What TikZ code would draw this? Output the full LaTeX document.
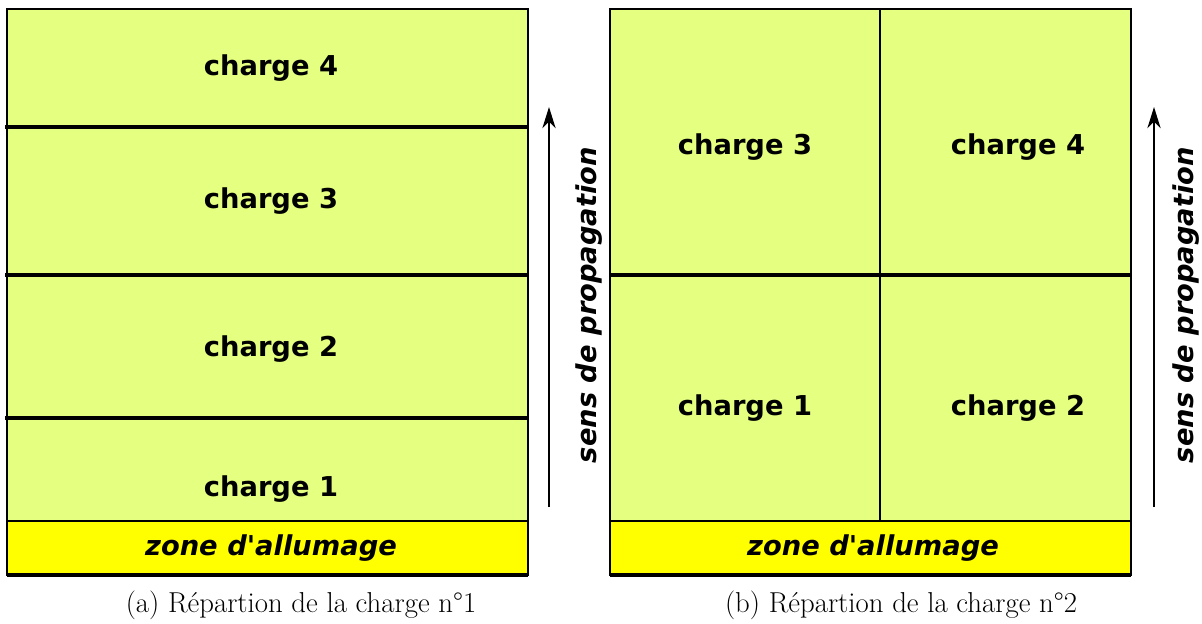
\documentclass[tikz,border=0pt]{standalone}
\usepackage{fontspec}
\usepackage{tikz}
\usetikzlibrary{arrows.meta,positioning}
\newfontfamily\dejavu{DejaVu Sans}
\definecolor{chfill}{RGB}{229,255,128}
\definecolor{znfill}{RGB}{255,255,0}
\tikzset{
  chlabel/.style={font=\dejavu\bfseries\fontsize{20.5}{24}\selectfont, inner sep=0pt},
  znlabel/.style={font=\dejavu\bfseries\itshape\fontsize{20.5}{24}\selectfont, inner sep=0pt},
  senslabel/.style={font=\dejavu\bfseries\itshape\fontsize{20.5}{24}\selectfont, inner sep=0pt, rotate=90},
  caplabel/.style={font=\fontsize{21.6}{25}\selectfont, inner sep=0pt},
  outline/.style={draw=black, line width=1.8pt},
  divline/.style={draw=black, line width=2.5pt},
  thinline/.style={draw=black, line width=1.1pt},
  sensarrow/.style={-{Stealth[length=16pt, width=10pt, inset=5pt]}, line width=1pt, draw=black}
}
\begin{document}
\begin{tikzpicture}[x=0.75pt, y=-0.75pt]
  \useasboundingbox (0,0) rectangle (1202,624);
  % (a) first layout
  \fill[chfill] (7,9) rectangle (528,521);
  \fill[znfill] (7,521) rectangle (528,575);
  \draw[divline] (5,127) -- (528,127);
  \draw[divline] (5,275) -- (528,275);
  \draw[divline] (5,418) -- (528,418);
  \draw[outline] (7,521) -- (528,521);
  \draw[outline] (7,9) rectangle (528,575);
  \draw[divline] (7,575) -- (528,575);
  \node[chlabel] (aC4) at (271,68) {charge 4};
  \node[chlabel] (aC3) at (271,201) {charge 3};
  \node[chlabel] (aC2) at (271,349) {charge 2};
  \node[chlabel] (aC1) at (271,489) {charge 1};
  \node[znlabel] (aZ) at (271,548) {zone d'allumage};
  \coordinate (aS) at (549,507);
  \coordinate (aE) at (549,107);
  \draw[sensarrow] (aS) -- (aE);
  \node[senslabel] (aSens) at (589,305) {sens de propagation};
  \node[caplabel] (aCap) at (301,605) {(a) Répartion de la charge n°1};
  % (b) second layout
  \fill[chfill] (610,9) rectangle (1131,521);
  \fill[znfill] (610,521) rectangle (1131,575);
  \draw[divline] (610,275) -- (1131,275);
  \draw[thinline] (880,9) -- (880,521);
  \draw[outline] (610,521) -- (1131,521);
  \draw[outline] (610,9) rectangle (1131,575);
  \draw[divline] (610,575) -- (1131,575);
  \node[chlabel] (bC3) at (745,147) {charge 3};
  \node[chlabel] (bC4) at (1018,147) {charge 4};
  \node[chlabel] (bC1) at (745,408) {charge 1};
  \node[chlabel] (bC2) at (1018,408) {charge 2};
  \node[znlabel] (bZ) at (873,548) {zone d'allumage};
  \coordinate (bS) at (1154,507);
  \coordinate (bE) at (1154,107);
  \draw[sensarrow] (bS) -- (bE);
  \node[senslabel] (bSens) at (1186,305) {sens de propagation};
  \node[caplabel] (bCap) at (901,605) {(b) Répartion de la charge n°2};
\end{tikzpicture}
\end{document}
